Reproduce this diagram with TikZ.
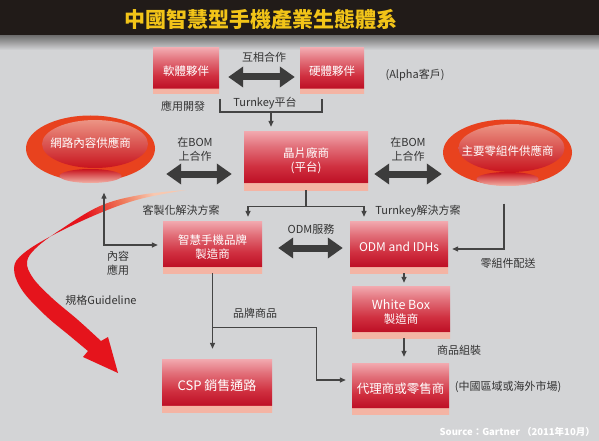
\documentclass[tikz,border=0pt]{standalone}
\usepackage{fontspec}
\setmainfont{Noto Sans CJK TC}
\usetikzlibrary{arrows.meta,calc,shapes.geometric,positioning}
\definecolor{bg}{HTML}{D3D4D6}
\definecolor{titlebg}{HTML}{211B18}
\definecolor{titlegold}{HTML}{F2C418}
\definecolor{txtgrey}{HTML}{333333}
\definecolor{linegrey}{HTML}{444444}
\definecolor{fatgrey}{HTML}{3C3C3C}
\definecolor{bandpk}{HTML}{F4B4A4}
\definecolor{redC}{HTML}{BE1026}
\definecolor{redB}{HTML}{D03040}
\definecolor{redA}{HTML}{E2707A}
\definecolor{pinkA}{HTML}{F2AAB0}
\definecolor{ringred}{HTML}{E8421E}
\definecolor{innerpk}{HTML}{EC9484}
\definecolor{innerrd}{HTML}{C8141E}
\definecolor{glow}{HTML}{F2B2A6}
\definecolor{gred}{HTML}{E5141C}
\definecolor{gpeach}{HTML}{F8C8B0}
\pgfdeclareverticalshading{redbox}{100bp}{color(0bp)=(bandpk); color(31bp)=(bandpk); color(31.5bp)=(redC); color(45bp)=(redB); color(62bp)=(redA); color(75bp)=(pinkA); color(100bp)=(pinkA)}
\pgfdeclareverticalshading{guide}{100bp}{color(0bp)=(gred); color(40bp)=(gred); color(55bp)=(gred); color(66bp)=(ringred!60!gpeach); color(75bp)=(gpeach); color(100bp)=(gpeach)}

\begin{document}
\begin{tikzpicture}[x=1pt,y=-1pt,>={Triangle[length=6pt,width=5pt]}]
\tikzstyle{box}=[shading=redbox,draw=none,text=white,align=center,inner sep=1pt,font=\fontsize{11.5}{14}\selectfont]
\tikzstyle{oval}=[ellipse,fill=ringred,inner sep=0pt,minimum width=129pt,minimum height=66pt]
\tikzstyle{lab}=[text=txtgrey,align=center,inner sep=1pt,font=\fontsize{11}{13.5}\selectfont]
\tikzstyle{conn}=[draw=linegrey,line width=1.3pt]
\tikzstyle{fat}=[draw=fatgrey,line width=7pt,{Triangle[width=20pt,length=15pt]}-{Triangle[width=20pt,length=15pt]}]

\fill[bg] (0,0) rectangle (599,441);
\useasboundingbox (0,0) rectangle (599,441);
\fill[titlebg] (0,0) rectangle (599,36);
\shade[top color=black!55,bottom color=bg] (0,36) rectangle (599,50);
\node[text=titlegold,font=\fontsize{21}{24}\bfseries] (title) at (261,20) {中國智慧型手機產業生態體系};

\shade[shading=guide,shading angle=-63] plot[smooth,tension=0.6] coordinates {(186,190) (140,199) (100,213) (55,234) (24,253) (14,268) (22,290) (45,315) (70,336) (88,351)}
  -- (83,357) -- (118,373) -- (108,337) -- (101,341)
  -- plot[smooth,tension=0.6] coordinates {(101,341) (78,320) (52,298) (33,278) (27,262) (36,248) (60,230) (100,206) (140,195) (186,190)} -- cycle;

\node[box,minimum width=66pt,minimum height=46pt] (soft) at (186,71) {軟體夥伴};
\node[box,minimum width=64pt,minimum height=46pt] (hard) at (332,71) {硬體夥伴};
\node[box,minimum width=124pt,minimum height=59pt] (chip) at (306,160.5) {晶片廠商\\(平台)};
\node[box,minimum width=99pt,minimum height=52pt] (smart) at (212.5,247) {智慧手機品牌\\製造商};
\node[box,minimum width=98pt,minimum height=52pt,font=\fontsize{12}{14}\selectfont] (odm) at (399,247) {ODM and IDHs};
\node[box,minimum width=98pt,minimum height=52pt] (wbox) at (401,312) {{\fontsize{12.5}{15}\selectfont White Box}\\製造商};
\node[box,minimum width=97pt,minimum height=51pt,font=\fontsize{12.5}{15}\selectfont] (agent) at (400.5,388.5) {代理商或零售商};
\node[box,minimum width=110pt,minimum height=53pt,font=\fontsize{13}{15}\selectfont] (csp) at (217,385.5) {CSP 銷售通路};

\node[oval] (web) at (90.5,148.5) {};
\shade[top color=innerpk,bottom color=innerrd] ($(web.center)+(4.5,-4.5)$) ellipse [x radius=53pt,y radius=24pt];
\shade[top color=innerrd,bottom color=glow] ($(web.center)+(0,27.5)$) ellipse [x radius=31pt,y radius=7pt];
\node[text=white,font=\fontsize{11.5}{14}\selectfont] at ($(web.center)+(0,-5.5)$) {網路內容供應商};
\node[oval] (parts) at (507.5,152.5) {};
\shade[top color=innerpk,bottom color=innerrd] ($(parts.center)+(4,-4.5)$) ellipse [x radius=53pt,y radius=24pt];
\shade[top color=innerrd,bottom color=glow] ($(parts.center)+(0,26.5)$) ellipse [x radius=31pt,y radius=7pt];
\node[text=white,font=\fontsize{11.5}{14}\selectfont] at ($(parts.center)+(0,-1.5)$) {主要零組件供應商};

\node[lab] (mutual) at (264,57) {互相合作};
\node[lab] (alpha) at (415,75) {(Alpha客戶)};
\node[lab] (appdev) at (183,106) {應用開發};
\node[lab] (tkplat) at (265,103) {Turnkey平台};
\node[lab] (bomL) at (195,149.5) {在BOM\\上合作};
\node[lab] (bomR) at (408,149.5) {在BOM\\上合作};
\node[lab] (custom) at (181,210) {客製化解決方案};
\node[lab] (tksol) at (418,211) {Turnkey解決方案};
\node[lab] (odmsvc) at (311,229) {ODM服務};
\node[lab] (content) at (118,263.5) {內容\\應用};
\node[lab] (deliver) at (508,263) {零組件配送};
\node[lab] (guide) at (101,300) {規格Guideline};
\node[lab] (brand) at (255,313) {品牌商品};
\node[lab] (assy) at (459,350) {商品組裝};
\node[lab] (market) at (508,387) {(中國區域或海外市場)};
\node[text=white,font=\fontsize{9.5}{11}\bfseries,anchor=east,inner sep=0pt] (src) at (595,432) {Source：Gartner （2011年10月）};

\coordinate (tkL) at (220,99);
\coordinate (tkR) at (322,99);
\coordinate (tkM) at (271,112);
\draw[conn] (tkL) -- ++(0,13) -| (tkR);
\draw[conn,->,shorten >=4pt] (tkM) -- (tkM |- chip.north);

\coordinate (bomy) at (0,174);
\coordinate (odmy) at (0,248);
\draw[fat,shorten <=9pt,shorten >=5pt] ($(soft.east)+(0,6)$) -- ($(hard.west)+(0,6)$);
\draw[fat,shorten <=11pt,shorten >=12pt] (web.east |- bomy) -- (chip.west |- bomy);
\draw[fat,shorten <=6pt,shorten >=1pt] (chip.east |- bomy) -- (parts.west |- bomy);
\draw[fat,shorten <=16pt,shorten >=7pt] (smart.east |- odmy) -- (odm.west |- odmy);

\draw[conn] (chip.south) -- ++(0,16) coordinate (split);
\draw[conn,->,shorten >=4pt] (split) -| ($(smart.north)+(35.5,0)$);
\draw[conn,->,shorten >=4pt] (split) -| ($(odm.north)+(-35,0)$);
\draw[conn,<->,shorten >=5pt] ($(web.south)+(13.5,11)$) |- ($(smart.west)+(0,-2)$);
\draw[conn,->,shorten >=4pt] ($(parts.south)+(-3.5,18)$) |- ($(odm.east)+(0,2)$);
\draw[conn,->,shorten >=3pt] ($(odm.south)+(5,0)$) -- ($(wbox.north)+(3,0)$);
\draw[conn,->,shorten >=6pt] ($(wbox.south)+(3,0)$) -- ($(agent.north)+(3.5,0)$);
\draw[conn,->,shorten >=10pt] (smart.south) -- (smart.south |- csp.north);
\coordinate (branch) at ($(smart.south)+(0,54)$);
\draw[conn,->,shorten >=6pt] (branch) -| ($(agent.west)+(-35,-8.5)$) -- ($(agent.west)+(0,-8.5)$);
\end{tikzpicture}
\end{document}
